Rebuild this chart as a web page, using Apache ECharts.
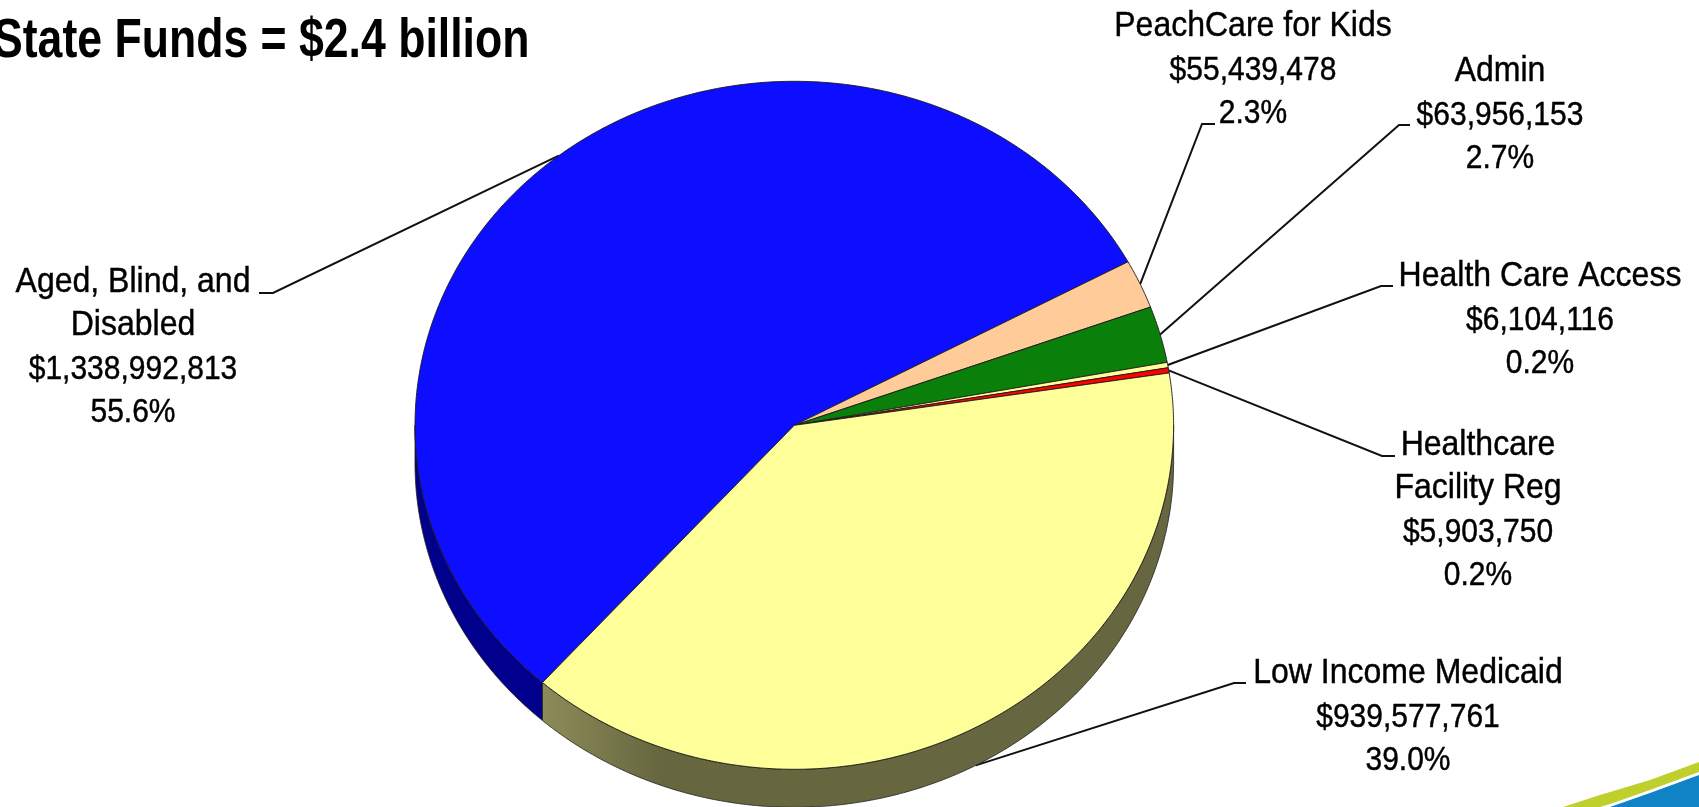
<!DOCTYPE html>
<html>
<head>
<meta charset="utf-8">
<style>
  html, body { margin: 0; padding: 0; background: #fff; overflow: hidden; }
  #chart { width: 1699px; height: 807px; }
</style>
<script src="https://cdn.jsdelivr.net/npm/echarts@6/dist/echarts.min.js"></script>
</head>
<body>
<div id="chart"></div>
<script>
// State funds by program, clockwise from the Aged, Blind, and Disabled slice.
const categories = [
  'Aged, Blind, and\nDisabled',
  'PeachCare for Kids',
  'Admin',
  'Health Care Access',
  'Healthcare\nFacility Reg',
  'Low Income Medicaid'
];
const fundValues = [1338992813, 55439478, 63956153, 6104116, 5903750, 939577761];
const percentLabels = ['55.6%', '2.3%', '2.7%', '0.2%', '0.2%', '39.0%'];
const faceColors = ['#0d0dff', '#ffcc99', '#0a800a', '#ffff99', '#ff0000', '#ffff99'];
const wallColors = ['#00008c', '#997a5c', '#064d06', '#66663d', '#990000', '#666640'];
const titleText = 'State Funds = $2.4 billion';

// Disc geometry of the tilted pie.
const disc = { cx: 794.3, cy: 425.3, rx: 379.3, ry: 344, depth: 38, startDeg: 221.6 };

// Label blocks: centre x, first baseline, and the elbow of each leader line.
const labelBlocks = [
  { x: 133, y: 292, elbow: [273, 293], tail: [259, 293] },
  { x: 1253, y: 36, elbow: [1202, 124], tail: [1215, 124] },
  { x: 1500, y: 81, elbow: [1399, 125], tail: [1410, 125] },
  { x: 1540, y: 286, elbow: [1381, 286], tail: [1393, 286] },
  { x: 1478, y: 455, elbow: [1382, 456], tail: [1395, 456] },
  { x: 1408, y: 683, elbow: [1234, 683], tail: [1246, 683] }
];
const LINE_PITCH = 43;

const total = fundValues.reduce((a, b) => a + b, 0);
const spans = [];
fundValues.reduce((acc, v) => {
  const sweep = v / total * 360;
  spans.push([acc, acc + sweep]);
  return acc + sweep;
}, disc.startDeg);

// Point on the disc rim; degrees run clockwise from twelve o'clock.
function rim(deg, drop) {
  const a = deg * Math.PI / 180;
  return [disc.cx + disc.rx * Math.sin(a), disc.cy - disc.ry * Math.cos(a) + (drop || 0)];
}
function arc(from, to, drop) {
  const pts = [];
  const steps = Math.max(2, Math.ceil(Math.abs(to - from) * 2));
  for (let i = 0; i <= steps; i++) pts.push(rim(from + (to - from) * i / steps, drop));
  return pts;
}
// Portions of a span that face the viewer, i.e. the lower half of the rim.
function frontParts(span) {
  const parts = [];
  for (const shift of [0, 360]) {
    const a = Math.max(span[0], 90 + shift);
    const b = Math.min(span[1], 270 + shift);
    if (b > a) parts.push([a, b]);
  }
  return parts;
}

function renderWall(params) {
  const i = params.dataIndex;
  const children = frontParts(spans[i]).map(([a, b]) => {
    const top = arc(a, b, 0);
    const bottom = arc(b, a, disc.depth);
    const lowIncome = i === 5;
    return {
      type: 'polygon',
      shape: { points: top.concat(bottom) },
      style: {
        fill: lowIncome ? {
          type: 'linear', x: 0, y: 0, x2: 1, y2: 0,
          colorStops: [
            { offset: 0, color: '#8c8c5a' },
            { offset: 0.19, color: '#66663f' },
            { offset: 1, color: wallColors[i] }
          ]
        } : wallColors[i],
        stroke: '#222',
        lineWidth: 0.8
      }
    };
  });
  return { type: 'group', children };
}

function renderFace(params) {
  const i = params.dataIndex;
  const pts = [[disc.cx, disc.cy]].concat(arc(spans[i][0], spans[i][1], 0));
  return {
    type: 'polygon',
    shape: { points: pts },
    style: { fill: faceColors[i], stroke: '#1a1a1a', lineWidth: 0.9 }
  };
}

function renderLeader(params) {
  const i = params.dataIndex;
  const mid = (spans[i][0] + spans[i][1]) / 2;
  const m = ((mid % 360) + 360) % 360;
  const front = m > 90 && m < 270;
  const b = labelBlocks[i];
  return {
    type: 'polyline',
    shape: { points: [rim(mid, front ? disc.depth : 0), b.elbow, b.tail] },
    style: { fill: null, stroke: '#111', lineWidth: 2 }
  };
}

function textLine(text, x, y, size) {
  return {
    type: 'text',
    x: x, y: y, scaleY: 1.1,
    style: {
      text: text,
      x: 0, y: 0,
      align: 'center',
      verticalAlign: 'bottom',
      font: size + 'px "Liberation Sans", Arial, sans-serif',
      fill: '#000',
      stroke: '#000',
      lineWidth: 0.4
    }
  };
}

function renderLabel(params) {
  const i = params.dataIndex;
  const b = labelBlocks[i];
  const names = categories[i].split('\n');
  const rows = names.map(t => [t, 32])
    .concat([['$' + fundValues[i].toLocaleString('en-US'), 30], [percentLabels[i], 30]]);
  return {
    type: 'group',
    children: rows.map((r, k) => textLine(r[0], b.x, b.y + k * LINE_PITCH + 8, r[1]))
  };
}

const chart = echarts.init(document.getElementById('chart'), null, { renderer: 'canvas' });
const rows = fundValues.map((v, i) => [i, v]);
const layer = (name, renderItem, z) => ({
  type: 'custom', name, coordinateSystem: 'none', renderItem, data: rows, z, silent: true, animation: false, clip: false
});

chart.setOption({
  animation: false,
  backgroundColor: '#ffffff',
  graphic: {
    elements: [
      // Corner swoosh of the slide background.
      {
        type: 'polygon', z: 0, silent: true,
        shape: { points: [[1563, 807], [1600, 795], [1650, 780], [1699, 762], [1699, 772], [1650, 790], [1610, 804], [1600, 807]] },
        style: { fill: '#bfcf2c' }
      },
      {
        type: 'polygon', z: 0, silent: true,
        shape: { points: [[1610, 807], [1650, 793], [1699, 775], [1699, 807]] },
        style: { fill: '#0f83c4' }
      },
      {
        type: 'text', z: 10, silent: true,
        x: -7, y: 70, scaleY: 1.25,
        style: {
          text: titleText,
          x: 0, y: 0,
          align: 'left',
          verticalAlign: 'bottom',
          font: 'bold 44.6px "Liberation Sans", Arial, sans-serif',
          fill: '#000'
        }
      }
    ]
  },
  series: [
    layer('leaders', renderLeader, 1),
    layer('walls', renderWall, 2),
    layer('faces', renderFace, 3),
    layer('labels', renderLabel, 4)
  ]
});
</script>
</body>
</html>
